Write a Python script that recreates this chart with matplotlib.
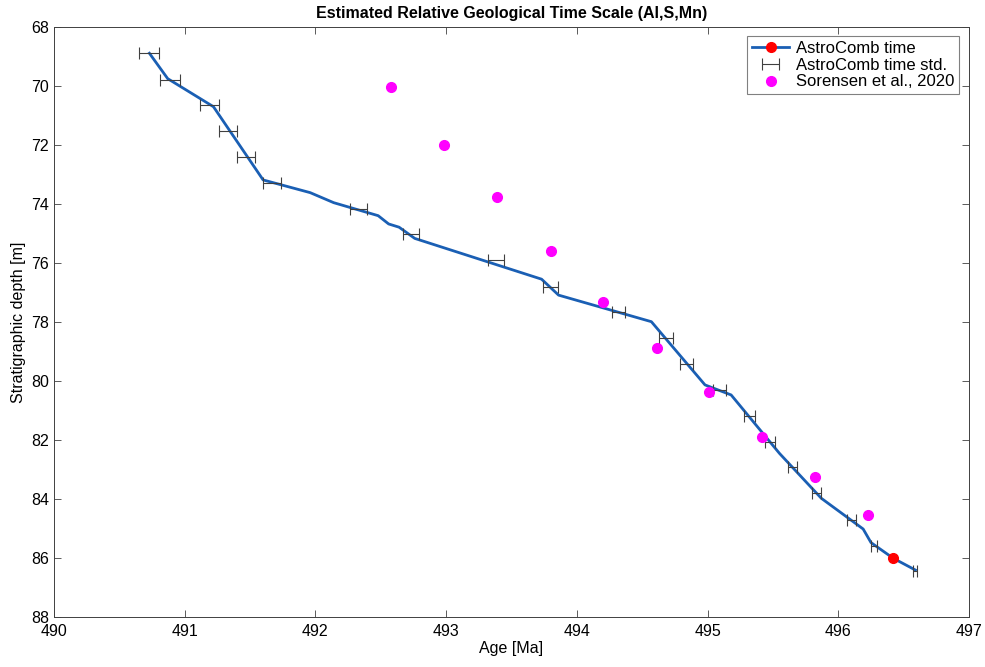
import numpy as np
import matplotlib
matplotlib.use('Agg')
import matplotlib.pyplot as plt

plt.rcParams['font.family'] = ['Liberation Sans', 'DejaVu Sans']

# AstroComb time curve (age [Ma], depth [m])
line_age = [490.73, 490.87, 491.22, 491.60, 491.96, 492.14, 492.48, 492.56, 492.64,
            492.76, 493.73, 493.86, 494.57, 494.98, 495.18, 495.55, 495.87, 496.19,
            496.25, 496.42, 496.59]
line_depth = [68.90, 69.76, 70.71, 73.19, 73.62, 73.96, 74.40, 74.68, 74.79,
              75.17, 76.55, 77.09, 77.99, 80.13, 80.47, 82.45, 83.97, 85.01,
              85.47, 86.00, 86.40]
marker_idx = [19]

# AstroComb time std. (horizontal error bars)
std_age = [490.73, 490.89, 491.19, 491.33, 491.47, 491.67, 492.33, 492.73, 493.38,
           493.80, 494.32, 494.68, 494.84, 495.09, 495.32, 495.48, 495.65, 495.83,
           496.10, 496.27, 496.59]
std_depth = [68.90, 69.79, 70.66, 71.52, 72.40, 73.28, 74.18, 75.03, 75.90,
             76.80, 77.66, 78.55, 79.42, 80.30, 81.18, 82.05, 82.92, 83.80,
             84.70, 85.59, 86.42]
std_err = [0.077, 0.077, 0.074, 0.069, 0.070, 0.069, 0.066, 0.061, 0.061,
           0.057, 0.051, 0.054, 0.048, 0.047, 0.045, 0.038, 0.036, 0.034,
           0.032, 0.023, 0.015]

# Sorensen et al., 2020
sor_age = [492.58, 492.98, 493.39, 493.80, 494.20, 494.61, 495.01, 495.42, 495.82, 496.23]
sor_depth = [70.04, 72.00, 73.77, 75.60, 77.32, 78.89, 80.38, 81.90, 83.26, 84.55]

fig = plt.figure(figsize=(9.85, 6.67), dpi=100)
ax = fig.add_axes([0.0548, 0.0745, 0.929, 0.8855])

h1, = ax.plot(line_age, line_depth, color='#1a5fb4', linewidth=2,
              marker='o', markevery=marker_idx, markersize=7,
              markerfacecolor='red', markeredgecolor='red', label='AstroComb time')
h2 = ax.errorbar(std_age, std_depth, xerr=std_err, fmt='none', ecolor='#404040',
                 elinewidth=0.8, capsize=4, capthick=0.8, label='AstroComb time std.')
h3, = ax.plot(sor_age, sor_depth, linestyle='none', marker='o', markersize=7,
              color='#ff00ff', label='Sorensen et al., 2020')

ax.set_xlim(490, 497)
ax.set_ylim(88, 68)
ax.set_xticks(np.arange(490, 498, 1))
ax.set_yticks(np.arange(68, 89, 2))
ax.tick_params(direction='in', top=True, right=True, labelsize=11.5,
               length=5, width=0.6, color='#404040')
ax.tick_params(axis='x', pad=5)
for s in ax.spines.values():
    s.set_color('#404040')
    s.set_linewidth(0.7)

ax.set_xlabel('Age [Ma]', fontsize=11.5, labelpad=1)
ax.set_ylabel('Stratigraphic depth [m]', fontsize=11.5, labelpad=4)
ax.set_title('Estimated Relative Geological Time Scale (Al,S,Mn)',
             fontsize=11.5, fontweight='bold', pad=6)

leg = ax.legend([h1, h2, h3], ['AstroComb time', 'AstroComb time std.', 'Sorensen et al., 2020'],
                loc='upper right', bbox_to_anchor=(0.989, 0.984), fontsize=12,
                fancybox=False, framealpha=1, edgecolor='#808080',
                handlelength=2.2, borderpad=0.3, labelspacing=0.1,
                handletextpad=0.4, borderaxespad=0)
leg.get_frame().set_linewidth(0.8)

fig.savefig('out.png', dpi=100)
